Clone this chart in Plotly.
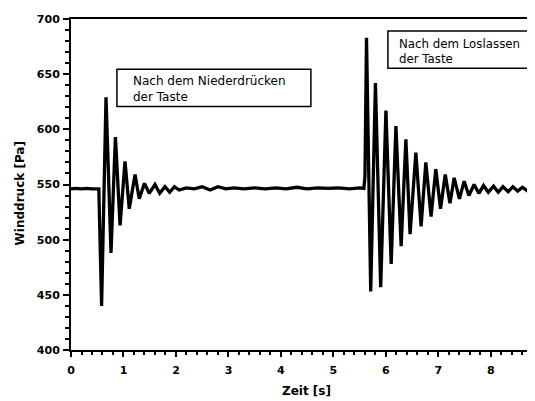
import plotly.graph_objects as go

# Time [s] and wind pressure [Pa] (turning points + baseline)
zeit_s = [
    0.00, 0.10, 0.20, 0.30, 0.40, 0.50, 0.53,
    0.583, 0.667, 0.762, 0.846, 0.935, 1.029, 1.11, 1.22, 1.30, 1.40, 1.49, 1.60, 1.69, 1.79, 1.88, 1.97, 2.06,
    2.20, 2.35, 2.50, 2.65, 2.80, 2.95, 3.10, 3.30, 3.50, 3.70, 3.90, 4.10, 4.30, 4.50, 4.70, 4.90, 5.10, 5.30, 5.50, 5.58,
    5.60, 5.63, 5.71, 5.80, 5.90, 6.00, 6.10, 6.19, 6.29, 6.38, 6.46, 6.57, 6.67, 6.76, 6.86, 6.95,
    7.04, 7.13, 7.22, 7.30, 7.40, 7.49, 7.58, 7.68, 7.77, 7.86, 7.95, 8.05, 8.14, 8.23, 8.33, 8.42,
    8.51, 8.60, 8.70, 8.79, 8.84,
]
winddruck_pa = [
    546, 546.5, 546, 546.5, 546, 546.5, 546,
    440, 629, 488, 593, 513, 571, 528, 559, 537, 551, 542, 550, 542, 548, 543, 548, 545,
    547, 546, 548, 545, 548, 546, 547, 546, 547, 546, 547, 546, 547.5, 546, 547, 546.5, 547, 546, 547, 546.5,
    557, 683, 453, 642, 457, 617, 478, 603, 494, 591, 505, 579, 512, 570, 521, 564,
    528, 559, 533, 556, 537, 553, 540, 550, 542, 549, 543, 548.5, 543, 548, 543.5, 548,
    544, 547.5, 544, 547, 545,
]

y_ticks = [400, 450, 500, 550, 600, 650, 700]
x_ticks = [0, 1, 2, 3, 4, 5, 6, 7, 8]

FONT = "DejaVu Sans"

fig = go.Figure()
fig.add_trace(go.Scatter(
    x=zeit_s, y=winddruck_pa, mode="lines",
    line=dict(color="black", width=3.3),
    showlegend=False, hoverinfo="skip",
))

axis_common = dict(
    showgrid=False, zeroline=False, showline=True, linecolor="black", linewidth=2,
    ticks="outside", tickcolor="black", tickwidth=1.5,
    tickfont=dict(family=FONT, size=11, color="black", weight="bold"),
)

fig.update_xaxes(
    range=[0, 8.84], tickvals=x_ticks, ticktext=[str(v) for v in x_ticks],
    ticklen=5, mirror=True,
    minor=dict(dtick=0.2, ticklen=3, tickwidth=1.5, ticks="outside", tickcolor="black"),
    ticklabelstandoff=4,
    **axis_common,
)
fig.update_yaxes(
    range=[400, 700], tickvals=y_ticks, ticktext=[str(v) for v in y_ticks],
    ticklen=6,
    minor=dict(dtick=10, ticklen=4, tickwidth=1.5, ticks="outside", tickcolor="black"),
    ticklabelstandoff=1,
    **axis_common,
)

# Axis titles
fig.add_annotation(text="Zeit [s]", xref="paper", yref="paper", x=0.508, y=-0.125,
                   xanchor="center", yanchor="middle", showarrow=False,
                   font=dict(family=FONT, size=12, color="black", weight="bold"))
fig.add_annotation(text="Winddruck [Pa]", xref="paper", yref="paper", x=-0.110, y=0.473,
                   xanchor="center", yanchor="middle", textangle=-90, showarrow=False,
                   font=dict(family=FONT, size=12, color="black", weight="bold"))

# Text boxes
fig.add_shape(type="rect", xref="paper", yref="paper", x0=0.099, x1=0.517, y0=0.736, y1=0.848,
              line=dict(color="black", width=1.5), fillcolor="rgba(0,0,0,0)")
fig.add_annotation(text="Nach dem Niederdrücken<br>der Taste", xref="paper", yref="paper",
                   x=0.129, y=0.790, xanchor="left", yanchor="middle", align="left", showarrow=False,
                   font=dict(family=FONT, size=12, color="black"))
fig.add_shape(type="rect", xref="paper", yref="paper", x0=0.683, x1=0.997, y0=0.851, y1=0.964,
              line=dict(color="black", width=1.5), fillcolor="rgba(0,0,0,0)")
fig.add_annotation(text="Nach dem Loslassen<br>der Taste", xref="paper", yref="paper",
                   x=0.702, y=0.903, xanchor="left", yanchor="middle", align="left", showarrow=False,
                   font=dict(family=FONT, size=11.8, color="black"))

# The page body adds an 8 px margin, so the figure is sized to fill the rest of the window.
fig.update_layout(
    width=527, height=393,
    margin=dict(l=63, r=0, t=11, b=51, autoexpand=False),
    paper_bgcolor="white", plot_bgcolor="white",
)

fig.write_html("out.html")
